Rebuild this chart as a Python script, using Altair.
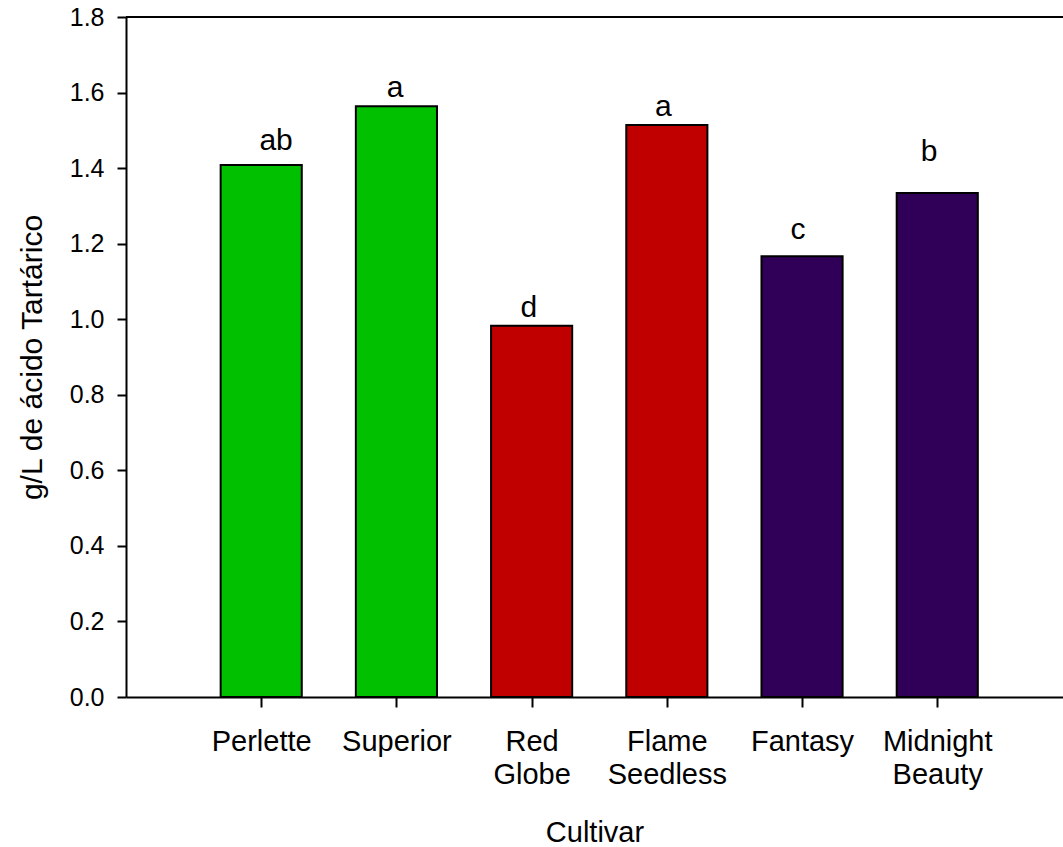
import altair as alt
import pandas as pd

# Titratable acidity by grape cultivar
cultivars = ["Perlette", "Superior", "Red Globe", "Flame Seedless", "Fantasy", "Midnight Beauty"]
label_lines = [["Perlette"], ["Superior"], ["Red", "Globe"], ["Flame", "Seedless"], ["Fantasy"], ["Midnight", "Beauty"]]
acidity = [1.408, 1.564, 0.983, 1.514, 1.167, 1.334]
letters = ["ab", "a", "d", "a", "c", "b"]
letter_x = [1.11, 1.99, 2.98, 3.975, 4.97, 5.94]
letter_height = [1.448, 1.588, 1.006, 1.538, 1.212, 1.420]
bar_colors = ["#00C000", "#00C000", "#C00000", "#C00000", "#300058", "#300058"]

FONT = "Liberation Sans"
XMAX = 6.93

df = pd.DataFrame({
    "cultivar": cultivars,
    "pos": list(range(1, len(cultivars) + 1)),
    "acidity": acidity,
    "letter": letters,
    "letter_x": letter_x,
    "letter_y": letter_height,
    "color": bar_colors,
})
df["left"] = df["pos"] - 0.3
df["right"] = df["pos"] + 0.3

label_expr = "[" + ",".join(
    "[" + ",".join("'" + s + "'" for s in lines) + "]" for lines in label_lines
) + "][datum.value - 1]"

x_scale = alt.Scale(domain=[0, XMAX], nice=False, zero=False)
y_scale = alt.Scale(domain=[0, 1.8], nice=False)

bars = alt.Chart(df).mark_bar(stroke="black", strokeWidth=2).encode(
    x=alt.X(
        "left:Q",
        scale=x_scale,
        axis=alt.Axis(
            title="Cultivar",
            values=list(range(1, len(cultivars) + 1)),
            labelExpr=label_expr,
            labelFont=FONT, labelFontSize=29, labelColor="black",
            labelLineHeight=33, labelPadding=20,
            titleFont=FONT, titleFontSize=29, titleFontWeight="normal", titleColor="black",
            titlePadding=29,
            tickSize=10, tickColor="black", tickWidth=2,
            domainColor="black", domainWidth=2,
            grid=False,
        ),
    ),
    x2="right:Q",
    y=alt.Y(
        "acidity:Q",
        scale=y_scale,
        axis=alt.Axis(
            title="g/L de ácido Tartárico",
            values=[round(0.2 * i, 1) for i in range(10)],
            format=".1f",
            labelFont=FONT, labelFontSize=25, labelColor="black", labelPadding=13,
            titleFont=FONT, titleFontSize=30, titleFontWeight="normal", titleColor="black",
            titlePadding=22,
            tickSize=9, tickColor="black", tickWidth=2,
            domainColor="black", domainWidth=2,
            grid=False,
        ),
    ),
    y2=alt.datum(0),
    color=alt.Color("color:N", scale=None),
)

letters_layer = alt.Chart(df).mark_text(
    font=FONT, fontSize=30, color="black", baseline="alphabetic", align="center"
).encode(
    x=alt.X("letter_x:Q", scale=x_scale),
    y=alt.Y("letter_y:Q", scale=y_scale),
    text="letter:N",
)

top_frame = alt.Chart(pd.DataFrame({"y": [1.8]})).mark_rule(color="black", strokeWidth=2).encode(
    y=alt.Y("y:Q", scale=y_scale),
    x=alt.value(0),
    x2=alt.value(940),
)

chart = (
    alt.layer(bars, letters_layer, top_frame)
    .properties(
        width=937,
        height=680,
        autosize=alt.AutoSizeParams(type="none"),
        padding={"left": 126, "top": 17, "right": 0, "bottom": 150},
        background="white",
    )
    .configure_view(stroke=None)
)

chart.save("out.html", embed_options={"renderer": "svg", "actions": False})
